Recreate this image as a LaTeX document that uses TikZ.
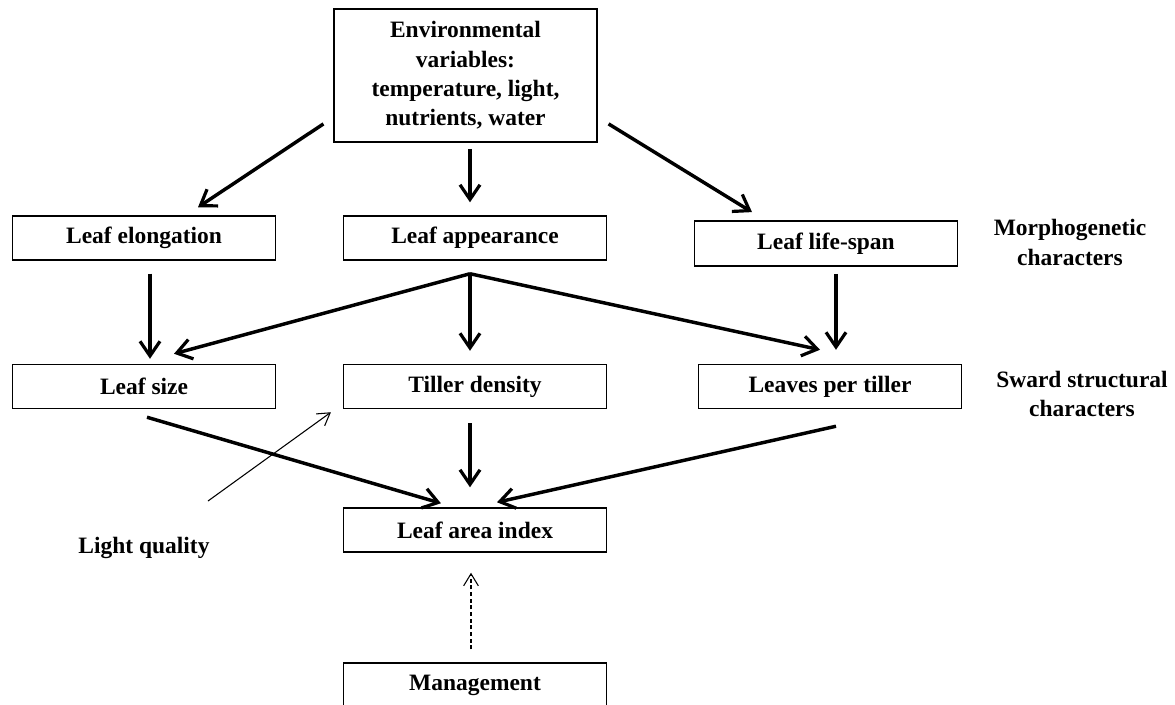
\documentclass[tikz,border=0pt]{standalone}
\usepackage{fontspec}
\setmainfont{Liberation Serif}
\usepackage{tikz}
\usetikzlibrary{arrows.meta,calc}

\begin{document}
\begin{tikzpicture}[x=0.75pt, y=-0.75pt,
  every node/.style={font=\fontsize{17.6}{22}\selectfont\bfseries},
  box/.style={draw, line width=1.1pt, minimum width=197pt, minimum height=33pt, inner sep=0pt, align=center},
  label/.style={align=center, inner sep=0pt},
  fat/.style={line width=2.6pt, -{Straight Barb[length=11pt, width=15pt, line width=2.4pt]}},
  slim/.style={line width=0.8pt, -{Straight Barb[length=9pt, width=11pt, line width=0.8pt]}}]
\useasboundingbox (0,0) rectangle (1175,704);
% boxes, pixel positions of the figure (y grows downwards)
\node[box, minimum height=100pt] (env) at (465.5,75.5) {Environmental\\variables:\\temperature, light,\\nutrients, water};
\node[box] (elong)  at (144,238)   {Leaf elongation};
\node[box] (appear) at (475,238)   {Leaf appearance};
\node[box, minimum height=34pt] (life) at (826,243.5) {Leaf life-span};
\node[box] (size)   at (144,386.5) {Leaf size};
\node[box] (tiller) at (475,386.5) {Tiller density};
\node[box] (lpt)    at (830,386.5) {Leaves per tiller};
\node[box] (lai)    at (475,530)   {Leaf area index};
\node[box] (mgmt)   at (475,685)   {Management};
% side labels
\node[label] (morph) at (1070,242.5) {Morphogenetic\\characters};
\node[label] (sward) at (1082,394)   {Sward structural\\characters};
\node[label] (light) at (144,548)    {Light quality};
% thick arrows
\draw[fat] ($(env.south west)+(-10,-19)$) -- ($(elong.north)+(54,-8)$);
\draw[fat] ($(env.south)+(4.5,6)$) -- ($(appear.north)+(-5,-13)$);
\draw[fat] ($(env.south east)+(11,-19)$) -- ($(life.north)+(-74,-8)$);
\draw[fat] ($(elong.south)+(6,13)$) -- ($(size.north)+(6,-5)$);
\foreach \dst/\dx/\dy in {size/30/-10, tiller/-5/-13, lpt/-10/-14}
  \draw[fat] ($(appear.south)+(-5,13)$) -- ($(\dst.north)+(\dx,\dy)$);
\draw[fat] ($(life.south)+(10,7)$) -- ($(lpt.north)+(6,-14)$);
\draw[fat] ($(size.south)+(3,8)$) -- ($(lai.north west)+(98,-4)$);
\draw[fat] ($(tiller.south)+(-5,14)$) -- ($(lai.north)+(-5,-20)$);
\draw[fat] ($(lpt.south)+(6,17)$) -- ($(lai.north)+(22,-5)$);
% thin arrows
\draw[slim] ($(light.center)+(64,-47)$) -- ($(tiller.south west)+(-12,3)$);
\draw[slim, dash pattern=on 3pt off 2pt] ($(mgmt.north)+(-4,-13)$) -- ($(lai.south)+(-4,20)$);
\end{tikzpicture}
\end{document}
